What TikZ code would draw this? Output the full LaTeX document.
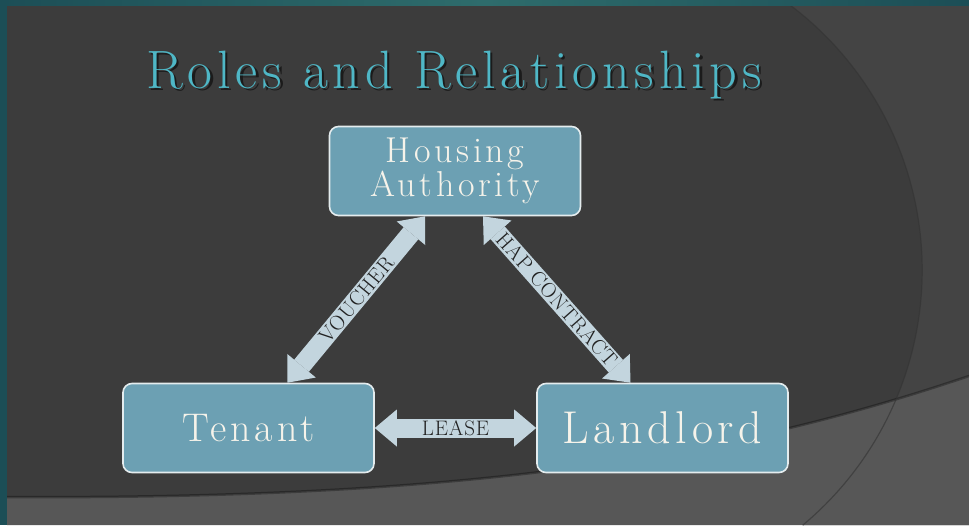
\documentclass[tikz,border=0pt]{standalone}
\usepackage{fontspec}
\setmainfont{lmroman17-regular.otf}
\usetikzlibrary{arrows.meta,positioning}

\definecolor{slidebg}{HTML}{3C3C3C}
\definecolor{slideright}{HTML}{444444}
\definecolor{slidelow}{HTML}{575757}
\definecolor{frameteal}{HTML}{1C4E56}
\definecolor{frametealmid}{HTML}{2E6C6C}
\definecolor{titlecyan}{HTML}{4FB7C6}
\definecolor{boxfill}{HTML}{6CA0B3}
\definecolor{boxline}{HTML}{E4ECEE}
\definecolor{boxtext}{HTML}{F6F3EA}
\definecolor{linkfill}{HTML}{C3D5DE}
\definecolor{linktext}{HTML}{222222}

\newcommand{\slidetitlefont}{\fontsize{54}{60}\selectfont\addfontfeature{LetterSpace=9}}
\newcommand{\rolelinkfont}{\fontsize{21}{23}\selectfont\addfontfeature{LetterSpace=4}}

\tikzset{
  rolebox/.style={draw=boxline, line width=1.6pt, fill=boxfill, rounded corners=9pt,
    minimum width=251pt, minimum height=89pt, text=boxtext, align=center, inner sep=0pt},
  link/.style={draw=linkfill, line width=19pt,
    {Triangle[length=22pt,width=37pt,line width=0pt]}-{Triangle[length=22pt,width=37pt,line width=0pt]}},
  linklabel/.style={text=linktext, font=\rolelinkfont, sloped, inner sep=0pt}
}

\begin{document}
\begin{tikzpicture}[x=1pt, y=-1pt]
    \useasboundingbox (0,0) rectangle (969,525);

    % Slide background
    \fill[slidebg] (0,0) rectangle (969,525);
    \fill[slideright] (790,5) arc[start angle=-53, end angle=50.2, radius=332] -- (969,525) -- (969,5) -- cycle;
    \fill[slidelow] (7,497) .. controls (500,500) and (750,450) .. (969,376) -- (969,525) -- (7,525) -- cycle;
    \draw[black, opacity=0.3, line width=2.5pt] (7,497) .. controls (500,500) and (750,450) .. (969,376);
    \draw[black!80, opacity=0.6, line width=1.2pt] (790,5) arc[start angle=-53, end angle=50.2, radius=332];

    % Teal frame
    \shade[left color=frameteal, right color=frameteal, middle color=frametealmid] (0,0) rectangle (969,5);
    \fill[frameteal] (0,0) rectangle (7,525);

    % Title with shadow
    \node[anchor=base, text=black, text opacity=0.55] (titleshadow) at (456.5,90.5) {\slidetitlefont Roles and Relationships};
    \node[anchor=base, text=titlecyan] (title) at (454,88) {\slidetitlefont Roles and Relationships};

    % Roles
    \node[rolebox, font={\fontsize{36}{32}\selectfont\addfontfeature{LetterSpace=10}}] (ha) at (455,171) {Housing\\Authority};
    \node[rolebox, font={\fontsize{40}{44}\selectfont\addfontfeature{LetterSpace=10}}] (tenant) at (248.5,428) {Tenant};
    \node[rolebox, font={\fontsize{46}{48}\selectfont\addfontfeature{LetterSpace=10}}] (landlord) at (662.5,428) {Landlord};

    % Relationships
    \draw[link] ([xshift=39pt]tenant.north) -- node[linklabel] (voucher) {VOUCHER} ([xshift=-30pt]ha.south);
    \draw[link] ([xshift=28pt]ha.south) -- node[linklabel] (hap) {HAP CONTRACT} ([xshift=-32pt]landlord.north);
    \draw[link] (tenant.east) -- node[linklabel] (lease) {LEASE} (landlord.west);
\end{tikzpicture}
\end{document}
